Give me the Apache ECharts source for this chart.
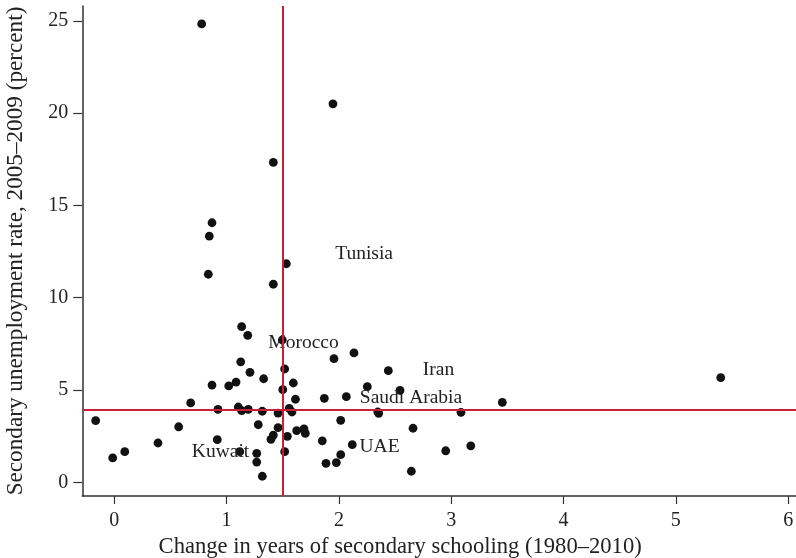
<!DOCTYPE html>
<html>
<head>
<meta charset="utf-8">
<script src="https://cdn.jsdelivr.net/npm/echarts@6/dist/echarts.min.js"></script>
<style>html,body{margin:0;padding:0;background:#fff;}#c{width:796px;height:558px;}</style>
</head>
<body>
<div id="c"></div>
<script>
// Change in years of secondary schooling (1980-2010)
var schoolingChange = [0.778,1.947,1.416,0.870,0.846,1.532,0.837,1.416,1.134,1.188,1.496,2.134,1.956,1.126,1.517,2.440,1.208,5.400,1.330,1.084,1.594,0.870,1.019,2.253,1.500,2.544,1.613,1.870,2.066,3.455,0.680,0.923,1.104,1.134,1.193,1.318,1.458,1.558,1.582,2.346,2.354,3.087,-0.166,2.016,0.573,1.282,1.458,2.660,1.689,1.701,1.624,1.416,1.395,1.541,1.852,0.389,0.917,2.119,3.174,2.951,0.093,1.117,1.268,1.517,2.016,-0.014,1.268,1.885,1.977,2.645,1.318];
// Secondary unemployment rate, 2005-2009 (percent)
var unemployment = [24.83,20.50,17.33,14.06,13.34,11.84,11.27,10.73,8.43,7.96,7.71,7.01,6.70,6.53,6.14,6.05,5.96,5.67,5.61,5.43,5.38,5.27,5.22,5.18,5.02,4.98,4.50,4.55,4.64,4.33,4.30,3.95,4.08,3.88,3.95,3.85,3.75,4.01,3.81,3.81,3.74,3.79,3.34,3.36,3.01,3.12,2.96,2.93,2.89,2.65,2.80,2.56,2.33,2.49,2.25,2.13,2.31,2.04,1.98,1.71,1.66,1.66,1.57,1.66,1.50,1.32,1.10,1.03,1.07,0.60,0.33];
// Country annotations and where their text sits
var countryNames = ["Tunisia","Morocco","Iran","Saudi Arabia","UAE","Kuwait"];
var countryLabelX = [2.224,1.685,2.887,2.642,2.362,0.946];
var countryLabelY = [12.37,7.55,6.08,4.57,1.91,1.64];
// Reference lines
var refSchooling = 1.5;
var refUnemployment = 3.95;
// Tick values
var xTicks = [0,1,2,3,4,5,6];
var yTicks = [0,5,10,15,20,25];

var points = schoolingChange.map(function(x,i){return [x, unemployment[i]];});
var labels = countryNames.map(function(n,i){return {name:n, value:[countryLabelX[i], countryLabelY[i]]};});

var serif = '"Liberation Serif", "Times New Roman", serif';
var axisColor = '#333';

var chart = echarts.init(document.getElementById('c'), null, {renderer:'canvas'});
chart.setOption({
  animation:false,
  backgroundColor:'#fff',
  grid:{left:82.3, right:0, top:6, bottom:62, containLabel:false, outerBoundsMode:'none'},
  xAxis:{
    type:'value', min:-0.285, max:6.07,
    name:'Change in years of secondary schooling (1980–2010)',
    nameLocation:'middle', nameGap:34,
    nameTextStyle:{fontFamily:serif, fontSize:22.6, color:'#222', padding:[0,78,0,0]},
    axisLine:{show:true, onZero:false, lineStyle:{color:axisColor, width:1.5}},
    axisTick:{show:true, inside:false, length:8, customValues:xTicks, lineStyle:{color:axisColor, width:1.2}},
    axisLabel:{customValues:xTicks, margin:15, fontFamily:serif, fontSize:20, color:'#222', showMinLabel:true, showMaxLabel:true},
    splitLine:{show:false}
  },
  yAxis:{
    type:'value', min:-0.74, max:25.8,
    name:'Secondary unemployment rate, 2005–2009 (percent)',
    nameLocation:'middle', nameGap:55, nameRotate:90,
    nameTextStyle:{fontFamily:serif, fontSize:23.2, color:'#222'},
    axisLine:{show:true, onZero:false, lineStyle:{color:axisColor, width:1.5}},
    axisTick:{show:true, inside:false, length:9, customValues:yTicks, lineStyle:{color:axisColor, width:1.2}},
    axisLabel:{customValues:yTicks, margin:14, fontFamily:serif, fontSize:20, color:'#222'},
    splitLine:{show:false}
  },
  series:[
    {
      type:'scatter', data:[], z:1, silent:true,
      markLine:{
        silent:true, symbol:'none', animation:false,
        label:{show:false},
        lineStyle:{color:'#c8203c', width:2, type:'solid'},
        data:[{xAxis:refSchooling},{yAxis:refUnemployment}]
      }
    },
    {
      type:'scatter', data:points, z:3, symbol:'circle', symbolSize:8.8,
      itemStyle:{color:'#111', opacity:1}
    },
    {
      type:'scatter', data:labels, z:4, symbolSize:0, silent:true,
      itemStyle:{color:'#222', opacity:1},
      label:{show:true, position:'inside', formatter:'{b}', fontFamily:serif, fontSize:19.5, color:'#222', textBorderWidth:0, textBorderColor:'transparent', textShadowBlur:0}
    }
  ]
});
</script>
</body>
</html>
